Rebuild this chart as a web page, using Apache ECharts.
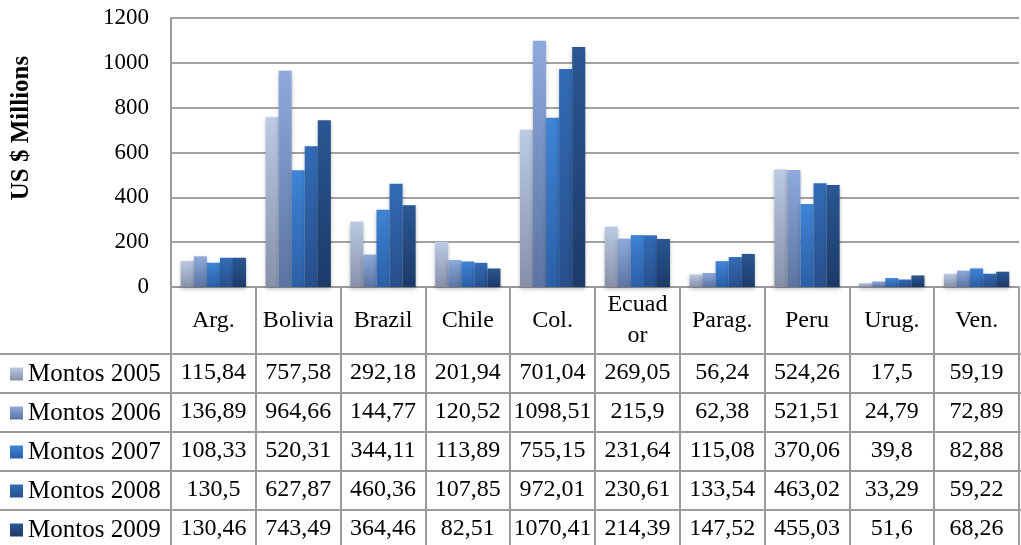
<!DOCTYPE html>
<html>
<head>
<meta charset="utf-8">
<script src="https://cdn.jsdelivr.net/npm/echarts@6/dist/echarts.min.js"></script>
<style>
html,body{margin:0;padding:0;background:#fff;}
#chart{width:1021px;height:545px;}
</style>
</head>
<body>
<div id="chart"></div>
<script>
const categories = ['Arg.', 'Bolivia', 'Brazil', 'Chile', 'Col.', 'Ecuador', 'Parag.', 'Peru', 'Urug.', 'Ven.'];
const seriesNames = ['Montos 2005', 'Montos 2006', 'Montos 2007', 'Montos 2008', 'Montos 2009'];
const montos2005 = [115.84, 757.58, 292.18, 201.94, 701.04, 269.05, 56.24, 524.26, 17.5, 59.19];
const montos2006 = [136.89, 964.66, 144.77, 120.52, 1098.51, 215.9, 62.38, 521.51, 24.79, 72.89];
const montos2007 = [108.33, 520.31, 344.11, 113.89, 755.15, 231.64, 115.08, 370.06, 39.8, 82.88];
const montos2008 = [130.5, 627.87, 460.36, 107.85, 972.01, 230.61, 133.54, 463.02, 33.29, 59.22];
const montos2009 = [130.46, 743.49, 364.46, 82.51, 1070.41, 214.39, 147.52, 455.03, 51.6, 68.26];
const yMin = 0, yMax = 1200, yStep = 200;
const yTitle = 'US $ Millions';

const allSeries = [montos2005, montos2006, montos2007, montos2008, montos2009];
const FONT = '"Liberation Serif", "Times New Roman", serif';
const gradients = [
  ['#bccae4', '#8690aa'],
  ['#8eaadc', '#5b74a2'],
  ['#3f84d6', '#2b5fa6'],
  ['#326cb6', '#284f8c'],
  ['#2a5793', '#1c3a68']
];
const GRID_LEFT = 171, GRID_TOP = 18, AXIS_Y = 287;
const HEADER_BOTTOM = 354, ROW_H = 39;
const fmt = v => String(v).replace('.', ',');

const chart = echarts.init(document.getElementById('chart'), null, {renderer: 'canvas'});

const xAxes = [{
  type: 'category',
  data: categories,
  position: 'bottom',
  axisLine: {show: true, lineStyle: {color: '#9a9a9a', width: 2}},
  axisTick: {show: true, length: 260, interval: 0, lineStyle: {color: '#9a9a9a', width: 2}},
  axisLabel: {
    interval: 0, margin: (AXIS_Y + HEADER_BOTTOM) / 2 - AXIS_Y, verticalAlign: 'middle',
    color: '#000', fontSize: 24, fontFamily: FONT, lineHeight: 31,
    formatter: v => v === 'Ecuador' ? 'Ecuad\nor' : v
  },
  splitLine: {show: false}
}];
allSeries.forEach((arr, k) => {
  xAxes.push({
    type: 'category',
    data: categories,
    position: 'bottom',
    axisLine: {show: false},
    axisTick: {show: false},
    splitLine: {show: false},
    axisLabel: {
      interval: 0,
      margin: HEADER_BOTTOM - AXIS_Y + ROW_H * k + ROW_H / 2 - 1,
      verticalAlign: 'middle',
      color: '#000', fontSize: 24, fontFamily: FONT,
      formatter: (v, i) => fmt(arr[i])
    }
  });
});

const tableLines = [];
for (let i = 0; i < 5; i++) {
  const y = HEADER_BOTTOM + ROW_H * i;
  tableLines.push({
    type: 'line', z: 10,
    shape: {x1: 0, y1: y, x2: 1021, y2: y},
    style: {stroke: '#9a9a9a', lineWidth: 2}
  });
}

const legends = seriesNames.map((name, k) => ({
  data: [name],
  orient: 'vertical',
  left: 5,
  top: HEADER_BOTTOM + ROW_H * k + ROW_H / 2 - 17,
  itemWidth: 13, itemHeight: 13,
  icon: 'rect',
  selectedMode: false,
  textStyle: {color: '#000', fontSize: 25, fontFamily: FONT, lineHeight: 25}
}));

const option = {
  animation: false,
  backgroundColor: '#fff',
  grid: {left: GRID_LEFT, right: 2, top: GRID_TOP, bottom: 545 - AXIS_Y, containLabel: false},
  legend: legends,
  xAxis: xAxes,
  yAxis: {
    type: 'value', min: yMin, max: yMax, interval: yStep,
    axisLine: {show: true, lineStyle: {color: '#9a9a9a', width: 2}},
    axisTick: {show: false},
    axisLabel: {color: '#000', fontSize: 23, fontFamily: FONT, margin: 22, formatter: v => String(v)},
    splitLine: {show: true, lineStyle: {color: '#a3a3a3', width: 2}}
  },
  graphic: tableLines.concat([{
    type: 'text',
    x: 22, y: 128,
    rotation: Math.PI / 2,
    style: {
      text: yTitle,
      font: 'bold 25px ' + FONT,
      fill: '#000',
      align: 'center',
      verticalAlign: 'middle'
    }
  }]),
  series: allSeries.map((arr, k) => ({
    name: seriesNames[k],
    type: 'bar',
    xAxisIndex: 0,
    data: arr,
    barGap: '0%',
    barCategoryGap: '23%',
    itemStyle: {
      color: {
        type: 'linear', x: 0, y: 0, x2: 0, y2: 1,
        colorStops: [{offset: 0, color: gradients[k][0]}, {offset: 1, color: gradients[k][1]}]
      },
      shadowColor: 'rgba(0,0,0,0.25)',
      shadowBlur: 4,
      shadowOffsetY: 2
    }
  }))
};
chart.setOption(option);
</script>
</body>
</html>
